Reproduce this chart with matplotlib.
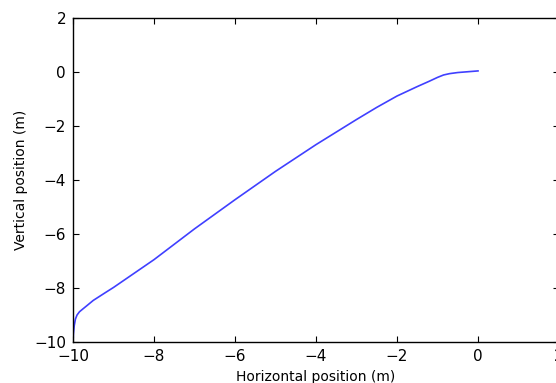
"""
Trajectory plot: vertical vs horizontal position.
"""
import matplotlib
matplotlib.use("Agg")
import matplotlib.pyplot as plt

# values
horizontal = [-10.0, -9.99, -9.97, -9.94, -9.9, -9.84, -9.76, -9.67, -9.5,
              -9.2, -9.0, -8.0, -7.0, -6.0, -5.0, -4.0, -3.0, -2.5, -2.0,
              -1.5, -1.2, -1.0, -0.85, -0.7, -0.5, -0.25, 0.0]
vertical = [-10.0, -9.7, -9.4, -9.15, -9.0, -8.88, -8.78, -8.67, -8.46,
            -8.17, -7.98, -6.95, -5.81, -4.73, -3.68, -2.69, -1.76, -1.31,
            -0.89, -0.54, -0.34, -0.2, -0.11, -0.06, -0.02, 0.01, 0.04]
x_ticks = [-10, -8, -6, -4, -2, 0, 2]
y_ticks = [-10, -8, -6, -4, -2, 0, 2]

W, H = 556, 383
fig = plt.figure(figsize=(W / 100, H / 100), dpi=100, facecolor="white")
# the reference is cropped on the right: the axes run past the figure edge
ax = fig.add_axes([73 / W, (H - 342) / H, (559 - 73) / W, (342 - 18) / H])

ax.plot(horizontal, vertical, color="#0000ff", linewidth=1.2, alpha=0.75)

ax.set_xlim(-10, 2)
ax.set_ylim(-10, 2)
ax.set_xticks(x_ticks)
ax.set_yticks(y_ticks)
ax.tick_params(direction="in", length=4, width=0.8, top=True, right=True,
               labelsize=11, pad=5)
for spine in ax.spines.values():
    spine.set_linewidth(1.0)

ax.set_xlabel("Horizontal position (m)", fontsize=10)
ax.set_ylabel("Vertical position (m)", fontsize=10)

fig.savefig("out.png", dpi=100, facecolor="white")
